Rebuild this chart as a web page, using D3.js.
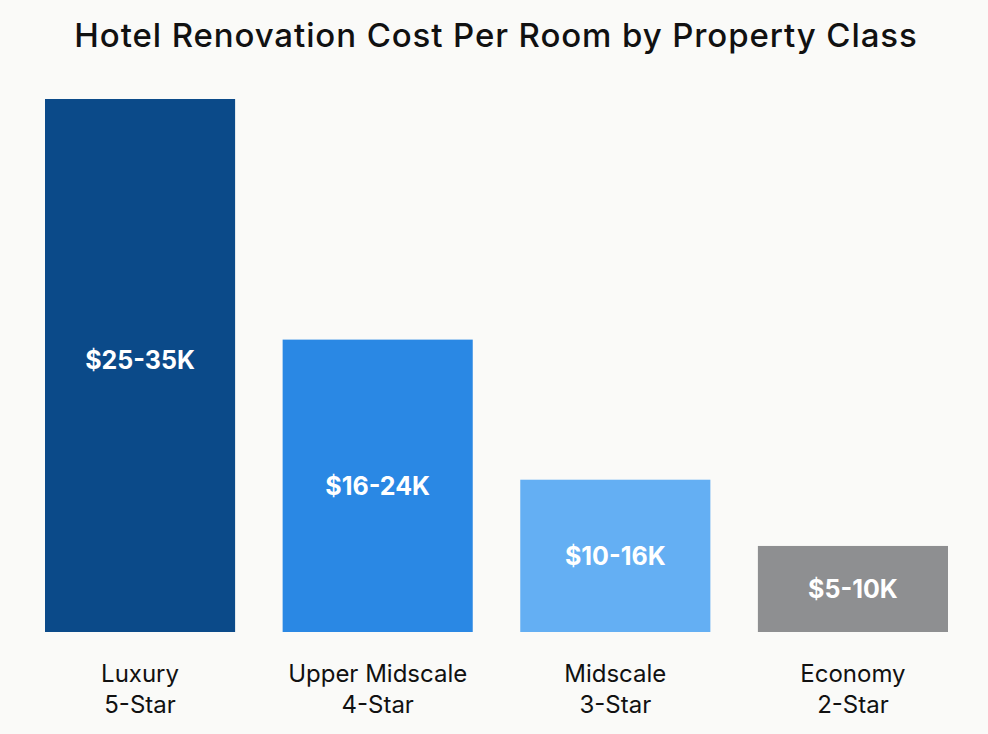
<!DOCTYPE html>
<html>
<head>
<meta charset="utf-8">
<script src="https://cdn.jsdelivr.net/npm/d3@7"></script>
<style>
  body { margin: 0; background: #fafaf8; }
  svg { display: block; font-family: Inter, "Open Sans", sans-serif; }
</style>
</head>
<body>
<svg id="chart"></svg>
<script>
const categories = ["Luxury", "Upper Midscale", "Midscale", "Economy"];
const tiers = ["5-Star", "4-Star", "3-Star", "2-Star"];
const values = [35, 19.2, 10.0, 5.65];
const rangeLabels = ["$25-35K", "$16-24K", "$10-16K", "$5-10K"];
const colors = ["#0b4a89", "#2a88e4", "#64aff3", "#8e8f91"];

const width = 988;
const height = 734;
const margin = { top: 99, right: 40, bottom: 102, left: 45 };

const svg = d3.select("#chart")
  .attr("width", width)
  .attr("height", height);

svg.append("text")
  .attr("x", 496)
  .attr("y", 47)
  .attr("text-anchor", "middle")
  .attr("font-size", 33)
  .attr("font-weight", 500)
  .attr("letter-spacing", 0.9)
  .attr("fill", "#111")
  .text("Hotel Renovation Cost Per Room by Property Class");

const x = d3.scaleBand()
  .domain(d3.range(categories.length))
  .range([margin.left, width - margin.right])
  .paddingInner(0.2)
  .paddingOuter(0);

const y = d3.scaleLinear()
  .domain([0, d3.max(values)])
  .range([height - margin.bottom, margin.top]);

const bars = svg.append("g")
  .selectAll("g")
  .data(values)
  .join("g");

bars.append("rect")
  .attr("x", (d, i) => x(i))
  .attr("y", d => y(d))
  .attr("width", x.bandwidth())
  .attr("height", d => y(0) - y(d))
  .attr("fill", (d, i) => colors[i]);

bars.append("text")
  .attr("x", (d, i) => x(i) + x.bandwidth() / 2)
  .attr("y", d => (y(d) + y(0)) / 2 - (d > 30 ? 5 : 0))
  .attr("dy", "0.35em")
  .attr("text-anchor", "middle")
  .attr("font-size", 25)
  .attr("font-weight", 700)
  .attr("fill", "#fff")
  .text((d, i) => rangeLabels[i]);

const labels = svg.append("g")
  .selectAll("text")
  .data(categories)
  .join("text")
  .attr("x", (d, i) => x(i) + x.bandwidth() / 2)
  .attr("y", 682)
  .attr("text-anchor", "middle")
  .attr("font-size", 24)
  .attr("fill", "#111");

labels.append("tspan").text(d => d);
labels.append("tspan")
  .attr("x", (d, i) => x(i) + x.bandwidth() / 2)
  .attr("dy", 31)
  .text((d, i) => tiers[i]);
</script>
</body>
</html>
